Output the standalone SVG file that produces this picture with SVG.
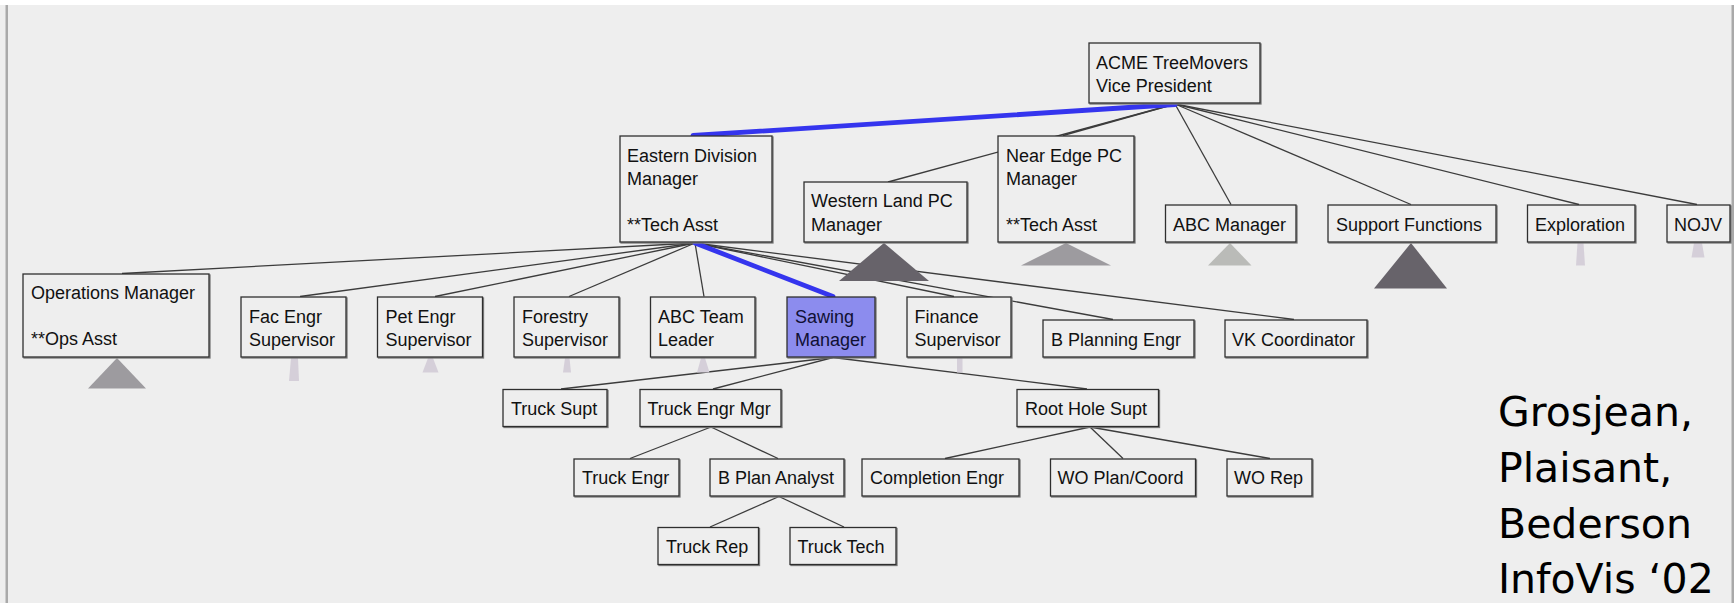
<svg xmlns="http://www.w3.org/2000/svg" width="1734" height="603" viewBox="0 0 1734 603">
  <style>
    .bg { fill: #eeeeee; }
    .frame { fill: #a9a9a9; }
    .box { fill: #eeeeee; stroke: #2e2e2e; stroke-width: 1.3; filter: url(#shade); }
    .sel { fill: #8c8cee; }
    .t { font-family: "Liberation Sans", Arial, sans-serif; font-size: 18px; fill: #111111; }
    .tsel { fill: #101034; }
    .edge { stroke: #3c3c3c; stroke-width: 1.3; fill: none; }
    .path { stroke: #3535ee; stroke-width: 4.8; fill: none; stroke-linecap: round; }
    .dark { fill: #67636a; }
    .mid { fill: #9d9b9f; }
    .light { fill: #babbb8; }
    .tiny { fill: #d5cfd9; }
    .credit { font-family: "DejaVu Sans", Verdana, sans-serif; font-size: 41px; fill: #000000; }
  </style>
  <defs>
    <filter id="shade" x="-5%" y="-5%" width="110%" height="120%">
      <feOffset in="SourceAlpha" dx="1" dy="1" result="o"/>
      <feFlood flood-color="#7a7a7a"/>
      <feComposite in2="o" operator="in" result="s"/>
      <feMerge>
        <feMergeNode in="s"/>
        <feMergeNode in="SourceGraphic"/>
      </feMerge>
    </filter>
  </defs>

  <!-- canvas -->
  <rect x="0" y="0" width="1734" height="603" fill="#ffffff"/>
  <rect class="bg" x="0" y="5" width="1734" height="598"/>
  <rect class="frame" x="5.5" y="5" width="2.5" height="598"/>
  <rect class="frame" x="1731.5" y="5" width="2.5" height="598"/>

  <!-- connectors -->
  <g id="connectors">
    <line class="edge" x1="1175" y1="104" x2="888" y2="182"/>
    <line class="edge" x1="1175" y1="104" x2="1063" y2="135.5"/>
    <line class="edge" x1="1175" y1="104" x2="1231" y2="204.5"/>
    <line class="edge" x1="1175" y1="104" x2="1411" y2="204.5"/>
    <line class="edge" x1="1175" y1="104" x2="1579" y2="204.5"/>
    <line class="edge" x1="1175" y1="104" x2="1697" y2="204.5"/>

    <line class="edge" x1="695" y1="243" x2="122" y2="273.5"/>
    <line class="edge" x1="695" y1="243" x2="300" y2="296.5"/>
    <line class="edge" x1="695" y1="243" x2="435" y2="296.5"/>
    <line class="edge" x1="695" y1="243" x2="569" y2="296.5"/>
    <line class="edge" x1="695" y1="243" x2="704" y2="296.5"/>
    <line class="edge" x1="695" y1="243" x2="954" y2="296.5"/>
    <line class="edge" x1="695" y1="243" x2="1113" y2="319.5"/>
    <line class="edge" x1="695" y1="243" x2="1294" y2="319.5"/>

    <line class="edge" x1="833" y1="357.5" x2="561" y2="389"/>
    <line class="edge" x1="833" y1="357.5" x2="713" y2="389"/>
    <line class="edge" x1="833" y1="357.5" x2="1087" y2="389"/>

    <line class="edge" x1="711" y1="427" x2="630" y2="458.5"/>
    <line class="edge" x1="711" y1="427" x2="778" y2="458.5"/>
    <line class="edge" x1="779" y1="496.5" x2="710" y2="527"/>
    <line class="edge" x1="779" y1="496.5" x2="844" y2="527"/>

    <line class="edge" x1="1090" y1="427" x2="945" y2="458.5"/>
    <line class="edge" x1="1090" y1="427" x2="1123" y2="458.5"/>
    <line class="edge" x1="1090" y1="427" x2="1270" y2="458.5"/>

    <!-- focus path -->
    <line class="path" x1="1175" y1="104.5" x2="693" y2="135.5"/>
    <line class="path" x1="695" y1="243" x2="833" y2="296.5"/>
  </g>

  <!-- collapsed subtrees -->
  <g id="subtrees">
    <polygon class="dark" points="884,243 929,281 839,281"/>
    <polygon class="mid" points="1066,243 1111,265.5 1021,265.5"/>
    <polygon class="light" points="1230,243 1251.5,265.5 1208,265.5"/>
    <polygon class="dark" points="1411,243 1447,288.5 1374,288.5"/>
    <polygon class="tiny" points="1577.5,243 1583.5,243 1585,265.5 1576,265.5"/>
    <polygon class="tiny" points="1694,243 1702,243 1704.5,257.5 1691.5,257.5"/>
    <polygon class="mid" points="117,358 146,388.5 88,388.5"/>
    <polygon class="tiny" points="291,358 298,358 299,381 289,381"/>
    <polygon class="tiny" points="428,358 433,358 438.5,372.5 422.5,372.5"/>
    <polygon class="tiny" points="565,358 569.5,358 571,372.5 563,372.5"/>
    <polygon class="tiny" points="701,358 705,358 709.5,372.5 697,372.5"/>
    <polygon class="tiny" points="957,358 962.5,358 962.5,372.5 957,372.5"/>
  </g>

  <!-- level 0 -->
  <g id="acme">
    <rect class="box" x="1089" y="43" width="171" height="60"/>
    <text class="t" x="1096" y="69">ACME TreeMovers</text>
    <text class="t" x="1096" y="92">Vice President</text>
  </g>

  <!-- level 1 -->
  <g id="eastern">
    <rect class="box" x="620" y="136" width="152" height="106"/>
    <text class="t" x="627" y="162">Eastern Division</text>
    <text class="t" x="627" y="185">Manager</text>
    <text class="t" x="627" y="230.5">**Tech Asst</text>
  </g>
  <g id="western">
    <rect class="box" x="804" y="182" width="163" height="60"/>
    <text class="t" x="811" y="207">Western Land PC</text>
    <text class="t" x="811" y="230.5">Manager</text>
  </g>
  <g id="near-edge">
    <rect class="box" x="998" y="136" width="136" height="106"/>
    <text class="t" x="1006" y="162">Near Edge PC</text>
    <text class="t" x="1006" y="185">Manager</text>
    <text class="t" x="1006" y="230.5">**Tech Asst</text>
  </g>
  <g id="abc-manager">
    <rect class="box" x="1165.5" y="205" width="130.5" height="37"/>
    <text class="t" x="1173" y="230.5">ABC Manager</text>
  </g>
  <g id="support">
    <rect class="box" x="1328" y="205" width="168" height="37"/>
    <text class="t" x="1336" y="230.5">Support Functions</text>
  </g>
  <g id="exploration">
    <rect class="box" x="1527.5" y="205" width="107.5" height="37"/>
    <text class="t" x="1535" y="230.5">Exploration</text>
  </g>
  <g id="nojv">
    <rect class="box" x="1667" y="205" width="63" height="37"/>
    <text class="t" x="1674" y="230.5">NOJV</text>
  </g>

  <!-- level 2 -->
  <g id="operations">
    <rect class="box" x="23" y="274" width="186" height="83"/>
    <text class="t" x="31" y="299">Operations Manager</text>
    <text class="t" x="31" y="345">**Ops Asst</text>
  </g>
  <g id="fac-engr">
    <rect class="box" x="241" y="297" width="105" height="60"/>
    <text class="t" x="249" y="322.5">Fac Engr</text>
    <text class="t" x="249" y="345.5">Supervisor</text>
  </g>
  <g id="pet-engr">
    <rect class="box" x="377.5" y="297" width="105" height="60"/>
    <text class="t" x="385.5" y="322.5">Pet Engr</text>
    <text class="t" x="385.5" y="345.5">Supervisor</text>
  </g>
  <g id="forestry">
    <rect class="box" x="514" y="297" width="105" height="60"/>
    <text class="t" x="522" y="322.5">Forestry</text>
    <text class="t" x="522" y="345.5">Supervisor</text>
  </g>
  <g id="abc-team">
    <rect class="box" x="650.5" y="297" width="104.5" height="60"/>
    <text class="t" x="658" y="322.5">ABC Team</text>
    <text class="t" x="658" y="345.5">Leader</text>
  </g>
  <g id="sawing">
    <rect class="box sel" x="787" y="297" width="88" height="60"/>
    <text class="t tsel" x="795" y="322.5">Sawing</text>
    <text class="t tsel" x="795" y="345.5">Manager</text>
  </g>
  <g id="finance">
    <rect class="box" x="907" y="297" width="104" height="60"/>
    <text class="t" x="914.5" y="322.5">Finance</text>
    <text class="t" x="914.5" y="345.5">Supervisor</text>
  </g>
  <g id="b-planning">
    <rect class="box" x="1043" y="320" width="151" height="37"/>
    <text class="t" x="1051" y="345.5">B Planning Engr</text>
  </g>
  <g id="vk">
    <rect class="box" x="1225" y="320" width="142" height="37"/>
    <text class="t" x="1232" y="345.5">VK Coordinator</text>
  </g>

  <!-- level 3 -->
  <g id="truck-supt">
    <rect class="box" x="503" y="389.5" width="104" height="37"/>
    <text class="t" x="511" y="414.5">Truck Supt</text>
  </g>
  <g id="truck-engr-mgr">
    <rect class="box" x="640" y="389.5" width="141" height="37"/>
    <text class="t" x="647.5" y="414.5">Truck Engr Mgr</text>
  </g>
  <g id="root-hole">
    <rect class="box" x="1017" y="389.5" width="141.5" height="37"/>
    <text class="t" x="1025" y="414.5">Root Hole Supt</text>
  </g>

  <!-- level 4 -->
  <g id="truck-engr">
    <rect class="box" x="574" y="459" width="105" height="37"/>
    <text class="t" x="582" y="484">Truck Engr</text>
  </g>
  <g id="b-plan-analyst">
    <rect class="box" x="710" y="459" width="134" height="37"/>
    <text class="t" x="718" y="484">B Plan Analyst</text>
  </g>
  <g id="completion">
    <rect class="box" x="862" y="459" width="157" height="37"/>
    <text class="t" x="870" y="484">Completion Engr</text>
  </g>
  <g id="wo-plan">
    <rect class="box" x="1050.5" y="459" width="145" height="37"/>
    <text class="t" x="1057.5" y="484">WO Plan/Coord</text>
  </g>
  <g id="wo-rep">
    <rect class="box" x="1227" y="459" width="85" height="37"/>
    <text class="t" x="1234" y="484">WO Rep</text>
  </g>

  <!-- level 5 -->
  <g id="truck-rep">
    <rect class="box" x="658" y="527.5" width="100.5" height="37"/>
    <text class="t" x="666" y="553">Truck Rep</text>
  </g>
  <g id="truck-tech">
    <rect class="box" x="790" y="527.5" width="106" height="37"/>
    <text class="t" x="797.5" y="553">Truck Tech</text>
  </g>

  <!-- citation -->
  <g id="citation">
    <text class="credit" x="1498" y="426">Grosjean,</text>
    <text class="credit" x="1498" y="482">Plaisant,</text>
    <text class="credit" x="1498" y="538">Bederson</text>
    <text class="credit" x="1498" y="593">InfoVis ‘02</text>
  </g>
</svg>
